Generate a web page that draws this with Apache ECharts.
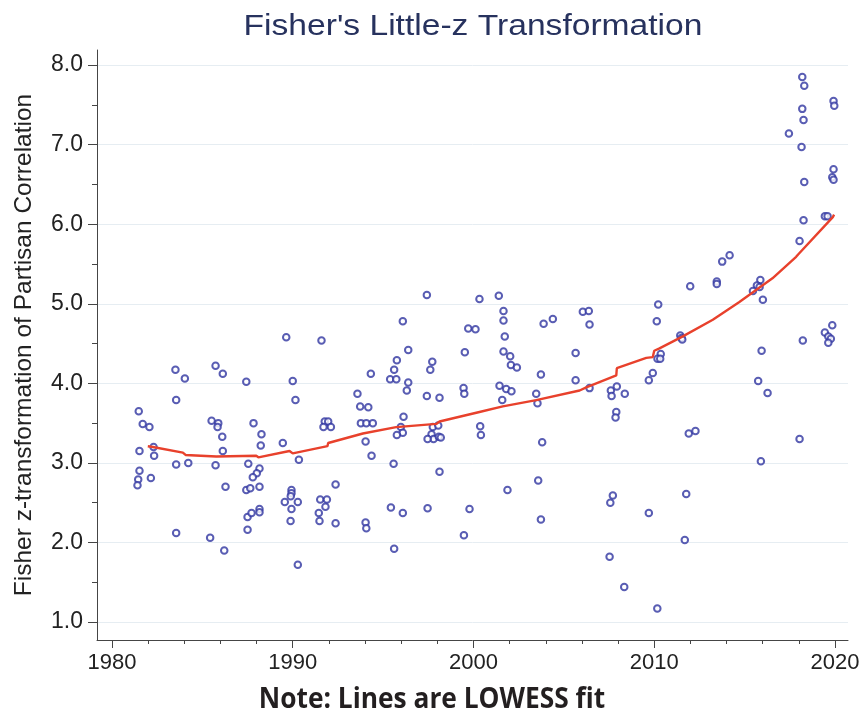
<!DOCTYPE html>
<html><head><meta charset="utf-8">
<script src="https://cdn.jsdelivr.net/npm/echarts@6/dist/echarts.min.js"></script>
<style>html,body{margin:0;padding:0;background:#fff}#c{width:864px;height:717px}</style>
</head><body><div id="c"></div>
<script>
// ---- data ----
const years = [
1981.48,1981.70,1982.07,1981.52,1982.30,1982.33,1981.52,1981.45,1981.41,1982.15,
1983.51,1984.03,1983.55,1983.55,1984.22,1983.55,1985.73,1986.13,1985.51,1985.88,
1985.84,1986.10,1986.13,1985.73,1986.28,1985.43,1986.21,1987.43,1987.83,1988.27,
1988.23,1987.54,1988.16,1988.01,1987.79,1987.43,1987.65,1988.16,1987.50,1987.72,
1988.16,1988.16,1987.50,1989.45,1989.64,1990.00,1990.15,1990.34,1989.93,1989.93,
1989.89,1989.56,1990.28,1989.93,1989.88,1990.28,1997.42,1996.09,1991.59,1999.71,
2000.11,1996.39,1999.52,1995.76,1997.72,1997.61,1995.61,1994.32,1995.39,1995.73,
1996.39,1996.31,1999.45,1999.49,1997.42,1998.12,1993.58,1993.73,1994.18,1996.13,
1991.77,1991.96,1992.11,1991.70,1993.77,1994.07,1994.43,1995.98,1997.75,1998.05,
1996.09,1995.76,1997.68,1997.79,1998.08,1998.19,1997.46,1994.03,1994.36,1995.58,
1998.12,1992.37,1991.52,1991.89,1991.81,1991.44,1991.48,1992.37,1994.03,1994.07,
1995.43,1996.09,1997.46,1999.78,1999.47,1995.61,2000.33,2001.40,2001.66,2001.66,
2001.73,2003.88,2004.39,2006.05,2006.38,2006.42,2001.66,2002.03,2002.07,2002.40,
2005.65,2003.73,2005.65,2001.44,2001.81,2002.10,2001.59,2003.47,2003.54,2006.42,
2007.60,2007.93,2007.64,2008.37,2009.92,2009.70,2007.90,2007.86,2000.37,2000.41,
2003.80,2003.58,2001.88,2007.71,2007.57,2009.70,2003.73,2007.53,2008.34,2010.17,
2018.19,2018.30,2019.92,2019.96,2018.19,2018.26,2017.45,2018.15,2019.92,2019.85,
2019.92,2018.30,2018.26,2019.44,2019.59,2018.04,2014.17,2013.76,2011.99,2013.46,
2013.46,2015.87,2015.68,2015.83,2015.46,2016.01,2010.22,2010.14,2011.44,2011.51,
2011.55,2019.85,2019.44,2019.63,2019.77,2019.63,2018.22,2010.36,2010.18,2010.33,
2015.94,2015.75,2016.27,2011.91,2012.28,2018.04,2015.90,2011.77,2011.69
];
const zValues = [
3.65,3.49,3.45,3.15,3.20,3.09,2.90,2.79,2.72,2.81,
4.17,4.06,3.79,2.98,3.00,2.12,4.22,4.12,3.53,3.50,
3.45,3.33,3.15,2.97,2.70,2.06,1.90,4.02,3.50,3.36,
3.22,2.99,2.93,2.87,2.82,2.66,2.68,2.70,2.32,2.37,
2.42,2.38,2.16,3.25,4.58,4.03,3.79,3.04,2.66,2.62,
2.58,2.51,2.51,2.42,2.27,1.72,5.11,4.78,4.54,4.69,
4.68,4.42,4.39,4.29,4.27,4.17,4.17,4.12,4.05,4.05,
4.01,3.91,3.94,3.87,3.84,3.82,3.87,3.71,3.70,3.58,
3.52,3.52,3.45,3.45,3.50,3.50,3.50,3.45,3.45,3.47,
3.38,3.35,3.36,3.30,3.33,3.32,3.30,3.27,3.09,2.99,
2.89,2.73,2.54,2.54,2.45,2.37,2.27,2.24,2.25,2.18,
2.44,2.37,2.43,2.42,2.09,1.92,5.06,5.10,4.91,4.79,
4.59,4.75,4.81,4.90,4.91,4.74,4.40,4.34,4.23,4.20,
4.38,4.11,4.04,3.97,3.93,3.90,3.79,3.87,3.75,3.94,
3.91,3.96,3.84,3.87,4.13,4.04,3.64,3.57,3.46,3.35,
3.26,2.78,2.66,2.59,2.50,2.37,2.29,1.82,1.44,1.17,
7.85,7.74,7.55,7.49,7.45,7.31,7.14,6.97,6.69,6.59,
6.56,6.53,6.05,6.10,6.10,5.79,5.61,5.53,5.22,5.28,
5.25,5.30,5.23,5.21,5.16,5.05,4.99,4.78,4.60,4.57,
4.55,4.73,4.64,4.59,4.56,4.51,4.54,4.37,4.31,4.31,
4.41,4.03,3.88,3.37,3.40,3.30,3.02,2.61,2.03
];
const lowessYears = [1981.98,1982.26,1983.92,1984.07,1985.77,1987.98,1988.10,1989.82,1990.00,1991.92,
  1991.96,1993.88,1995.72,1997.94,1998.12,2000.33,2001.62,2003.47,2005.87,2006.24,
  2007.90,2007.93,2009.56,2009.92,2010.00,2010.29,2011.58,2013.24,2014.69,2016.54,
  2017.85,2017.96,2019.88,2019.95];
const lowessValues = [3.21,3.20,3.13,3.10,3.08,3.09,3.07,3.15,3.12,3.21,
  3.25,3.37,3.45,3.49,3.52,3.64,3.71,3.79,3.91,3.95,
  4.10,4.19,4.32,4.33,4.41,4.44,4.59,4.80,5.02,5.32,
  5.59,5.62,6.09,6.12];
const xMajorTicks = [1980,1990,2000,2010,2020];
const xMinorTicks = [1982,1984,1986,1988,1992,1994,1996,1998,2002,2004,2006,2008,2012,2014,2016,2018];
const yMajorTicks = [1,2,3,4,5,6,7,8];
const yMinorTicks = [1.5,2.5,3.5,4.5,5.5,6.5,7.5];
const titleText = "Fisher's Little-z Transformation";
const yAxisTitle = "Fisher z-transformation of Partisan Correlation";
const noteText = "Note: Lines are LOWESS fit";

// ---- build ----
const X_MIN = 1979.17, X_MAX = 2020.72, Y_MIN = 0.774, Y_MAX = 8.19;
const AXIS_COLOR = '#454545', LABEL_COLOR = '#222';
const FONT = '"Liberation Sans", Arial, sans-serif';

const scatterData = years.map((y, i) => [y, zValues[i]]);
const lowessData = lowessYears.map((y, i) => [y, lowessValues[i]]);

const chart = echarts.init(document.getElementById('c'), null, {renderer: 'canvas'});
chart.setOption({
  animation: false,
  backgroundColor: '#fff',
  grid: {left: 97, right: 16, top: 50, bottom: 77, containLabel: false, outerBoundsMode: 'none'},
  graphic: [
    {type: 'text', x: 473, y: 27, scaleX: 1.12, z: 10,
     style: {text: titleText, font: '30px ' + FONT, fill: '#27325e', textAlign: 'center', textVerticalAlign: 'middle'}},
    {type: 'text', x: 432, y: 700, scaleX: 0.94, z: 10,
     style: {text: noteText, font: 'bold 28px "Open Sans", sans-serif', fill: '#231f20', textAlign: 'center', textVerticalAlign: 'middle'}}
  ],
  xAxis: [
    {type: 'value', min: X_MIN, max: X_MAX, position: 'bottom',
     axisLine: {show: true, lineStyle: {color: AXIS_COLOR, width: 1}},
     axisTick: {show: true, customValues: xMajorTicks, length: 8, lineStyle: {color: AXIS_COLOR}},
     axisLabel: {show: true, customValues: xMajorTicks, fontSize: 22, fontFamily: FONT, color: LABEL_COLOR, margin: 12,
                 formatter: v => String(Math.round(v))},
     splitLine: {show: false}},
    {type: 'value', min: X_MIN, max: X_MAX, position: 'bottom',
     axisLine: {show: false},
     axisTick: {show: true, customValues: xMinorTicks, length: 4, lineStyle: {color: AXIS_COLOR}},
     axisLabel: {show: false}, splitLine: {show: false}}
  ],
  yAxis: [
    {type: 'value', min: Y_MIN, max: Y_MAX, position: 'left',
     name: yAxisTitle, nameLocation: 'middle', nameGap: 60,
     nameTextStyle: {fontSize: 24.5, fontFamily: FONT, color: LABEL_COLOR},
     axisLine: {show: true, lineStyle: {color: AXIS_COLOR, width: 1}},
     axisTick: {show: true, customValues: yMajorTicks, length: 9, lineStyle: {color: AXIS_COLOR}},
     axisLabel: {show: true, customValues: yMajorTicks, fontSize: 23, fontFamily: FONT, color: LABEL_COLOR, margin: 14,
                 formatter: v => Number(v).toFixed(1)},
     splitLine: {show: true, lineStyle: {color: '#e6edf2', width: 1}}},
    {type: 'value', min: Y_MIN, max: Y_MAX, position: 'left',
     axisLine: {show: false},
     axisTick: {show: true, customValues: yMinorTicks, length: 5, lineStyle: {color: AXIS_COLOR}},
     axisLabel: {show: false}, splitLine: {show: false}}
  ],
  series: [
    {type: 'scatter', xAxisIndex: 0, yAxisIndex: 0, data: scatterData,
     symbol: 'emptyCircle', symbolSize: 6.5,
     itemStyle: {color: '#3035a0', borderWidth: 2.2}},
    {type: 'line', xAxisIndex: 0, yAxisIndex: 0, data: lowessData,
     showSymbol: false, symbol: 'none', smooth: false,
     lineStyle: {color: '#e8412c', width: 2.4}}
  ]
});
</script></body></html>
